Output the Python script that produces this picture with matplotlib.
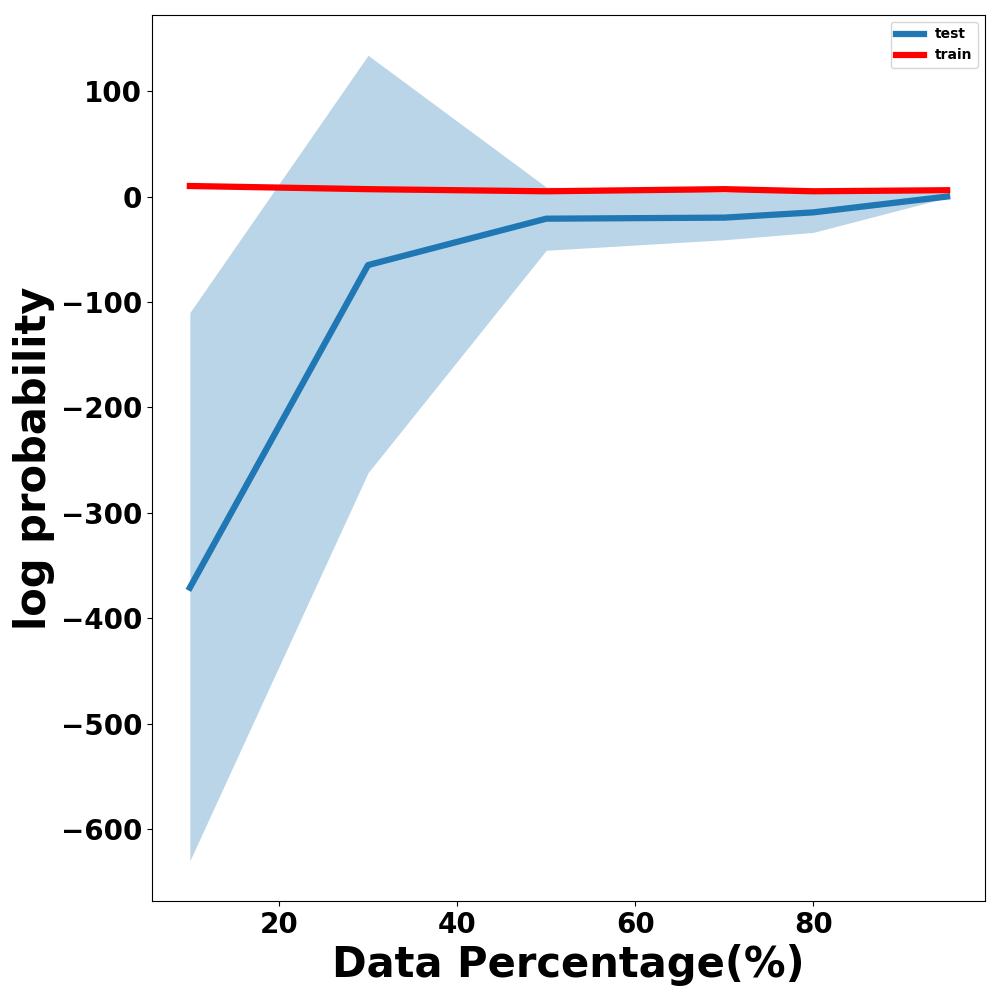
import numpy as np
import matplotlib
matplotlib.use('Agg')
import matplotlib.pyplot as plt

# data
pct = [10, 30, 50, 70, 80, 95]
test_mean = [-371, -65, -21, -20, -15, 0]
test_upper = [-110, 134, 9, 4, 7, 3]
test_lower = [-630, -262, -51, -41, -34, -1]
train_mean = [10, 7, 5, 7, 5, 6]

fig, ax = plt.subplots(figsize=(10, 10), dpi=100)
ax.plot(pct, test_mean, color='tab:blue', linewidth=4.5, label='test')
ax.fill_between(pct, test_lower, test_upper, color='tab:blue', alpha=0.3, linewidth=0)
ax.plot(pct, train_mean, color='red', linewidth=4.5, label='train')

ax.set_xlabel('Data Percentage(%)', fontsize=30, fontweight='bold')
ax.set_ylabel('log probability', fontsize=30, fontweight='bold')
ax.set_xticks([20, 40, 60, 80])
ax.set_yticks([-600, -500, -400, -300, -200, -100, 0, 100])
for lbl in ax.get_xticklabels() + ax.get_yticklabels():
    lbl.set_fontsize(20)
    lbl.set_fontweight('bold')

ax.legend(loc='upper right', prop={'weight': 'bold', 'size': 10})
fig.subplots_adjust(left=0.152, right=0.985, top=0.985, bottom=0.099)
plt.savefig('out.png', dpi=100)
